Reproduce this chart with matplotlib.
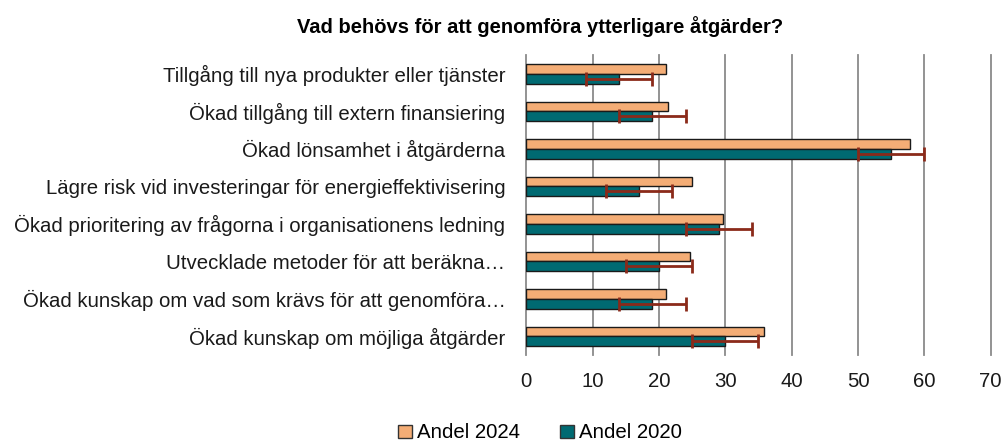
import matplotlib
matplotlib.use("Agg")
import matplotlib.pyplot as plt
from matplotlib.patches import Patch
import numpy as np

plt.rcParams['font.family'] = ['Liberation Sans', 'DejaVu Sans']

categories = [
    "Tillgång till nya produkter eller tjänster",
    "Ökad tillgång till extern finansiering",
    "Ökad lönsamhet i åtgärderna",
    "Lägre risk vid investeringar för energieffektivisering",
    "Ökad prioritering av frågorna i organisationens ledning",
    "Utvecklade metoder för att beräkna…",
    "Ökad kunskap om vad som krävs för att genomföra…",
    "Ökad kunskap om möjliga åtgärder",
]
andel_2024 = [21.1, 21.3, 57.8, 25.0, 29.6, 24.6, 21.0, 35.9]
andel_2020 = [14.0, 19.0, 55.0, 17.0, 29.0, 20.0, 19.0, 30.0]
err_2020 = [5, 5, 5, 5, 5, 5, 5, 5]
xticks = [0, 10, 20, 30, 40, 50, 60, 70]
title = "Vad behövs för att genomföra ytterligare åtgärder?"

c24 = "#F4AD76"
c20 = "#006A72"
cerr = "#8B2A1A"

fig = plt.figure(figsize=(10.03, 4.41), dpi=100)
ax = fig.add_axes([526.3/1003, 1-355/441, (990.7-526.3)/1003, 300/441])

y = np.arange(len(categories))
h = 0.26
ax.barh(y - h/2, andel_2024, height=h, color=c24, edgecolor="#1a1a1a", linewidth=1, zorder=3)
ax.barh(y + h/2, andel_2020, height=h, color=c20, edgecolor="#1a1a1a", linewidth=1, zorder=3)
ax.errorbar(andel_2020, y + h/2, xerr=err_2020, fmt='none', ecolor=cerr,
            elinewidth=2, capsize=5, capthick=2, zorder=4)

ax.set_xlim(0, 70)
ax.set_ylim(len(categories) - 0.5, -0.5)
ax.set_yticks(y)
ax.set_yticklabels(categories, fontsize=14.7, color="#1a1a1a")
ax.set_xticks(xticks)
ax.set_xticklabels([str(t) for t in xticks], fontsize=14.7, color="#1a1a1a")
ax.tick_params(axis='both', length=0)
ax.tick_params(axis='y', pad=15)
ax.tick_params(axis='x', pad=12)
for s in ax.spines.values():
    s.set_visible(False)
ax.set_axisbelow(True)
ax.xaxis.grid(True, color="#8a8a8a", linewidth=1.3)
for gl in ax.get_xgridlines():
    gl.set_clip_on(False)

fig.text(540/1003, 1-27/441, title, ha='center', va='center', fontsize=14.5, fontweight='bold')

handles = [Patch(facecolor=c24, edgecolor="#333333", label="Andel 2024"),
           Patch(facecolor=c20, edgecolor="#333333", label="Andel 2020")]
fig.legend(handles=handles, loc='center', bbox_to_anchor=(540/1003, 8/441), ncol=2,
           frameon=False, fontsize=14.7, handlelength=0.65, handleheight=0.65,
           handletextpad=0.25, columnspacing=2.0, borderaxespad=0)

fig.savefig("out.png", dpi=100)
